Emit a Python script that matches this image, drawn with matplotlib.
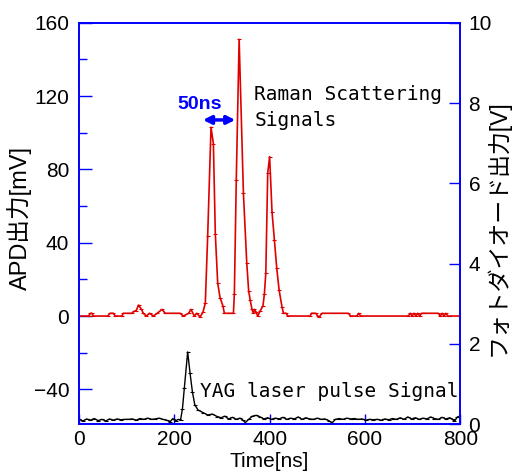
import matplotlib
matplotlib.use("Agg")
import matplotlib.pyplot as plt
from matplotlib.ticker import MultipleLocator

# ---- data ----
red_t = [0, 20, 24, 27, 30, 60, 65, 69, 72, 76, 90, 93, 105, 111, 115, 120, 125, 131, 135, 141,
         148, 156, 164, 174, 181, 200, 212, 219, 230, 235, 242, 247, 254, 260, 265, 270, 277, 282,
         286, 291, 296, 302, 305, 315, 324, 326, 330, 336, 345, 352, 356, 359, 363, 366, 368, 372,
         375, 380, 386, 389, 392, 396, 400, 405, 410, 415, 420, 426, 429, 435, 438, 485, 488, 492,
         497, 501, 504, 510, 565, 570, 583, 587, 591, 691, 695, 699, 703, 707, 711, 715, 719, 723,
         754, 758, 762, 766, 770, 774, 779, 800]
red_v = [0, 0, 1.5, 1.5, 0, 0, 1.5, 1.5, 1.5, 0, 0, 1.5, 1.5, 1.5, 2.5, 3, 6, 3.6, 1.5, 0,
         1.5, 0, 1.5, 3.6, 1.5, 1.5, 1.5, 0, 1.5, 3.6, 0, 1.5, -0.5, 2, 7, 43.7, 103, 94,
         45, 18, 10, 5.5, 1.5, 1.5, 1.5, 12, 74, 151, 67, 29, 13.7, 9, 3.6, 1.5, 3.6, 2,
         0, 2.7, 5.5, 12, 23.5, 78, 87, 57, 41.5, 26, 14, 5, 1.5, 1.5, 0, 0, 1.5, 1.5,
         1.5, 0, -0.5, 1.5, 1.5, 0, 0, 1.5, 0, 0, 1.5, 0, 1.5, 0, 1.5, 0, 1.5, 1.5,
         1.5, 0, 1.5, 0, 1.5, 0, 0, 0]

black_t = [0, 8, 16, 24, 32, 40, 48, 56, 64, 72, 80, 88, 96, 104, 112, 120, 128, 136, 144, 152,
           160, 168, 176, 184, 191, 197, 203, 209, 213, 217, 221, 228, 233, 238, 243, 250, 260,
           270, 280, 290, 298, 306, 314, 322, 330, 338, 344, 349, 356, 364, 372, 380, 388, 396,
           404, 412, 420, 428, 436, 444, 452, 460, 468, 476, 484, 492, 500, 508, 516, 524, 531,
           538, 546, 554, 562, 570, 578, 586, 594, 602, 610, 618, 626, 634, 642, 650, 658, 666,
           674, 682, 690, 698, 706, 714, 722, 730, 738, 746, 754, 762, 770, 778, 784, 788, 794, 800]
black_v = [0.12, 0.08, 0.13, 0.10, 0.14, 0.09, 0.12, 0.08, 0.13, 0.10, 0.13, 0.11, 0.12, 0.12, 0.13, 0.10, 0.14, 0.12, 0.15, 0.12,
           0.13, 0.15, 0.12, 0.10, 0.06, 0.14, 0.09, 0.12, 0.10, 0.38, 0.9, 1.8, 1.27, 0.8, 0.48, 0.35, 0.29,
           0.23, 0.25, 0.19, 0.16, 0.20, 0.13, 0.17, 0.12, 0.15, 0.10, 0.04, 0.12, 0.20, 0.22, 0.18, 0.13, 0.16,
           0.12, 0.15, 0.13, 0.17, 0.12, 0.15, 0.13, 0.18, 0.12, 0.16, 0.13, 0.12, 0.15, 0.12, 0.13, 0.09, 0.03,
           0.12, 0.14, 0.12, 0.15, 0.13, 0.14, 0.12, 0.13, 0.10, 0.12, 0.11, 0.12, 0.10, 0.13, 0.11, 0.14, 0.12,
           0.16, 0.12, 0.18, 0.13, 0.16, 0.12, 0.15, 0.13, 0.18, 0.14, 0.12, 0.17, 0.13, 0.16, 0.12, 0.07, 0.18, 0.20]

x_ticks = [0, 200, 400, 600, 800]
left_ticks = [-40, 0, 40, 80, 120, 160]
right_ticks = [0, 2, 4, 6, 8, 10]

BLUE = "#0000ff"
plt.rcParams['font.family'] = ['Liberation Sans', 'Noto Sans CJK JP', 'DejaVu Sans']

fig = plt.figure(figsize=(5.2, 4.75), dpi=100)
ax = fig.add_axes([0.152, 0.107, 0.733, 0.845])
ax2 = ax.twinx()

ax.plot(red_t, red_v, color="#e00000", lw=1.2, marker='_', ms=3.5, mew=0.8, zorder=3)
ax2.plot(black_t, black_v, color="black", lw=1.0, marker='_', ms=3, mew=0.8)

ax.set_xlim(0, 800)
ax.set_ylim(-59, 160)
ax2.set_ylim(0, 10)
ax.set_xticks(x_ticks)
ax.set_yticks(left_ticks)
ax.yaxis.set_minor_locator(MultipleLocator(20))
ax2.set_yticks(right_ticks)

for a in (ax, ax2):
    for s in a.spines.values():
        s.set_color(BLUE)
        s.set_linewidth(1.2)
ax.tick_params(axis='both', which='both', direction='in', color=BLUE, labelsize=15, labelcolor='black')
ax.tick_params(axis='y', which='major', length=9, width=1, pad=7)
ax.tick_params(axis='y', which='minor', length=6, width=1)
ax.tick_params(axis='x', which='major', length=7, width=1, pad=4)
ax2.tick_params(axis='y', which='major', direction='in', color=BLUE, length=8, width=1,
                labelsize=15, pad=6)

ax.set_xlabel("Time[ns]", fontsize=15, labelpad=2)
ax.set_ylabel("APD出力[mV]", fontsize=17, va='center')
ax.yaxis.set_label_coords(-0.155, 0.514)
ax2.set_ylabel("フォトダイオード出力[V]", fontsize=16.5, va='center')
ax2.yaxis.set_label_coords(1.097, 0.489)

ax.text(368, 121, "Raman Scattering", fontsize=14, family='DejaVu Sans Mono', va='center', ha='left')
ax.text(368, 106.5, "Signals", fontsize=14, family='DejaVu Sans Mono', va='center', ha='left')
ax2.text(254, 0.81, "YAG laser pulse Signal", fontsize=14, family='DejaVu Sans Mono', va='center', ha='left')

ax.text(254, 115.5, "50ns", fontsize=14, fontweight='bold', color=BLUE, ha='center', va='center')
ax.annotate("", xy=(260, 107), xytext=(328, 107),
            arrowprops=dict(arrowstyle='<|-|>', color=BLUE, lw=2.5, mutation_scale=12,
                            shrinkA=0, shrinkB=0))

fig.savefig("out.png", dpi=100)
